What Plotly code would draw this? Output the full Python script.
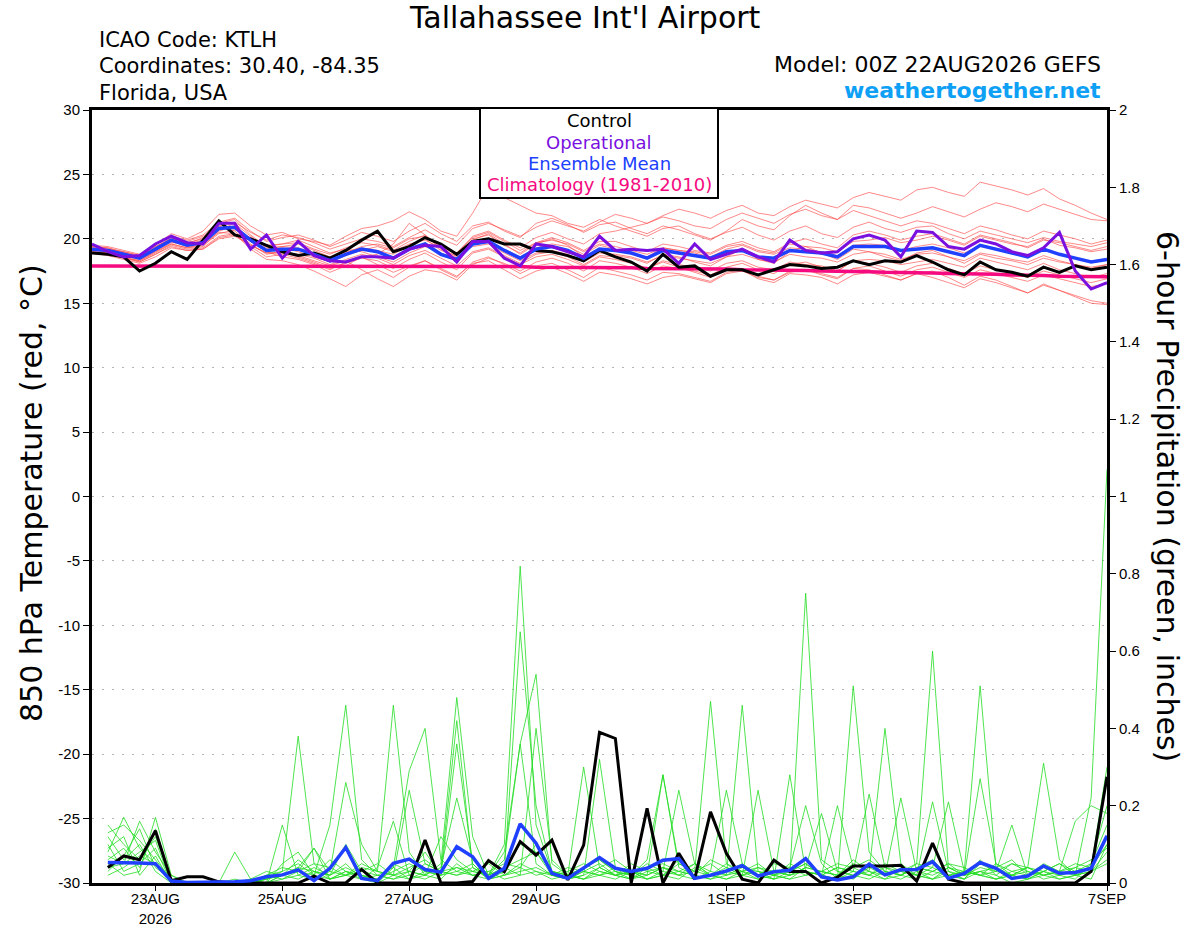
"""
ktlh_gefs_plume.py

GEFS plume for Tallahassee Int'l Airport (KTLH), 00Z 22AUG2026 run.
850 hPa temperature members (red) are drawn on the left axis and
6-hour precipitation members (green) on the right axis.

Usage:
    python3 plot.py
"""

import pandas as pd
import plotly.graph_objects as go

# Forecast times: temperature from 0 h, precipitation from 6 h, every 6 h to 384 h
TEMP_TIMES = pd.date_range('2026-08-22 00:00', periods=65, freq='6h')
PRECIP_TIMES = pd.date_range('2026-08-22 06:00', periods=64, freq='6h')

X_TICK_VALS = ['2026-08-23', '2026-08-25', '2026-08-27', '2026-08-29',
               '2026-09-01', '2026-09-03', '2026-09-05', '2026-09-07']
X_TICK_TEXT = ['23AUG<br>2026', '25AUG', '27AUG', '29AUG', '1SEP', '3SEP', '5SEP', '7SEP']
TEMP_TICKS = [30, 25, 20, 15, 10, 5, 0, -5, -10, -15, -20, -25, -30]
PRECIP_TICKS = [0, 0.2, 0.4, 0.6, 0.8, 1, 1.2, 1.4, 1.6, 1.8, 2]

# 850 hPa temperature (deg C)
temp_control = [18.9, 18.8, 18.6, 17.5, 18.1, 19.0, 18.4, 19.9, 21.4, 20.3, 20.0,
                19.5, 19.0, 18.7, 18.9, 18.5, 19.1, 19.9, 20.6, 19.0, 19.4,
                20.1, 19.6, 18.8, 19.8, 20.0, 19.6, 19.6, 19.1, 19.0, 18.7,
                18.3, 19.1, 18.6, 18.2, 17.5, 18.8, 17.8, 17.9, 17.1, 17.6,
                17.6, 17.2, 17.6, 18.0, 17.9, 17.7, 17.8, 18.3, 18.0, 18.3,
                18.2, 18.7, 18.2, 17.6, 17.2, 18.2, 17.6, 17.4, 17.1, 17.8,
                17.4, 17.9, 17.6, 17.8]
temp_oper = [19.6, 19.0, 18.6, 18.7, 19.6, 20.2, 19.7, 19.6, 21.2, 21.2, 19.2,
             20.3, 18.5, 19.8, 18.7, 18.3, 18.2, 18.6, 18.6, 18.5, 19.2,
             19.5, 19.4, 18.2, 19.8, 19.8, 18.5, 17.9, 19.6, 19.4, 19.0,
             18.6, 20.2, 19.1, 19.2, 19.1, 19.2, 18.1, 19.6, 18.4, 18.8,
             19.2, 18.6, 18.2, 19.9, 19.1, 18.9, 19.0, 20.0, 20.3, 19.9,
             18.6, 20.6, 20.5, 19.4, 19.2, 19.9, 19.6, 19.0, 18.7, 19.3,
             20.5, 17.5, 16.1, 16.6]
temp_mean = [19.2, 19.1, 18.8, 18.5, 19.2, 19.9, 19.5, 19.7, 20.8, 20.9, 19.9,
             19.1, 19.2, 19.2, 18.8, 18.3, 18.8, 19.2, 19.0, 18.5, 19.2,
             19.6, 18.8, 18.4, 19.6, 19.8, 19.1, 18.5, 19.2, 19.4, 19.1,
             18.5, 19.2, 19.1, 18.9, 18.5, 19.1, 18.9, 18.7, 18.5, 19.0,
             19.1, 18.6, 18.5, 19.1, 19.0, 18.9, 18.6, 19.4, 19.4, 19.4,
             19.1, 19.2, 19.3, 19.0, 18.7, 19.5, 19.2, 18.9, 18.6, 19.2,
             18.8, 18.5, 18.2, 18.4]
temp_clim = [17.9, 17.9, 17.9, 17.9, 17.9, 17.9, 17.9, 17.9, 17.9, 17.9, 17.9,
             17.9, 17.9, 17.9, 17.9, 17.9, 17.9, 17.9, 17.9, 17.9, 17.9,
             17.9, 17.9, 17.9, 17.9, 17.85, 17.85, 17.85, 17.8, 17.8, 17.8,
             17.8, 17.75, 17.75, 17.75, 17.7, 17.7, 17.7, 17.65, 17.65, 17.65,
             17.6, 17.6, 17.6, 17.55, 17.55, 17.5, 17.5, 17.45, 17.45, 17.4,
             17.4, 17.35, 17.35, 17.3, 17.3, 17.25, 17.25, 17.2, 17.2, 17.15,
             17.1, 17.1, 17.05, 17.05]

temp_m01 = [19.4, 19.3, 19.0, 18.7, 19.5, 20.4, 20.0, 20.6, 21.9, 22.0, 21.0,
            20.3, 20.5, 20.0, 19.8, 19.5, 20.2, 20.8, 21.0, 21.4, 22.1,
            21.5, 20.6, 20.2, 22.0, 24.1, 23.2, 22.6, 22.0, 21.8, 21.2,
            20.9, 21.5, 21.0, 20.6, 20.2, 20.8, 21.0, 20.4, 20.0, 20.5,
            20.9, 20.3, 19.9, 20.6, 21.0, 20.4, 20.1, 20.9, 21.3, 20.8,
            20.5, 20.9, 21.0, 20.4, 20.0, 20.6, 20.3, 20.0, 19.7, 20.1,
            19.8, 19.6, 19.4, 19.7]
temp_m02 = [19.0, 18.9, 18.6, 18.2, 18.8, 19.5, 19.2, 19.3, 20.2, 20.4, 19.2,
            18.4, 18.3, 18.0, 17.5, 16.9, 16.3, 17.2, 17.6, 17.0, 17.8,
            18.3, 17.6, 17.0, 18.2, 18.6, 18.0, 17.3, 17.9, 18.1, 17.6,
            17.0, 17.8, 17.5, 17.2, 16.8, 17.4, 17.3, 17.0, 16.7, 17.4,
            17.6, 16.9, 16.6, 17.3, 17.2, 17.0, 16.5, 17.2, 17.4, 17.1,
            16.8, 17.3, 17.0, 16.6, 16.2, 16.9, 16.6, 16.2, 15.8, 16.5,
            16.0, 15.6, 15.2, 15.0]
temp_m03 = [19.3, 19.2, 18.9, 18.6, 19.3, 20.1, 19.7, 20.0, 21.2, 21.5, 20.3,
            19.4, 19.6, 19.7, 19.2, 18.8, 19.3, 19.7, 19.5, 19.1, 19.8,
            20.3, 19.4, 18.9, 20.2, 20.6, 19.9, 19.3, 20.1, 20.5, 20.0,
            19.6, 20.4, 20.6, 20.9, 21.2, 21.8, 22.3, 22.0, 21.6, 22.2,
            22.6, 22.0, 21.8, 22.5, 23.0, 22.7, 22.4, 23.2, 23.6, 23.3,
            23.0, 23.8, 24.0, 23.6, 23.3, 24.4, 24.1, 23.8, 23.4, 23.9,
            23.1, 22.6, 22.0, 21.5]
temp_m04 = [19.1, 19.0, 18.7, 18.4, 19.0, 19.7, 19.6, 20.1, 21.0, 20.6, 19.6,
            18.8, 19.0, 18.6, 18.2, 17.7, 18.1, 18.5, 18.3, 17.7, 18.4,
            18.9, 18.2, 17.6, 18.9, 19.2, 18.6, 18.0, 18.6, 18.8, 18.4,
            17.9, 18.6, 18.4, 18.1, 17.7, 18.3, 18.0, 17.8, 17.5, 18.1,
            18.3, 17.8, 17.6, 18.2, 18.0, 17.9, 17.5, 18.3, 18.4, 18.3,
            18.0, 18.2, 18.4, 18.1, 17.8, 18.5, 18.2, 17.9, 17.6, 18.1,
            17.6, 17.3, 17.0, 17.3]
temp_m05 = [19.5, 19.4, 19.1, 18.8, 19.6, 20.2, 19.9, 20.3, 21.3, 21.6, 20.6,
            19.8, 20.1, 20.3, 19.9, 19.4, 19.9, 20.5, 20.2, 19.8, 20.6,
            21.2, 20.4, 19.8, 21.0, 21.3, 20.6, 20.1, 21.2, 21.6, 21.1,
            20.5, 21.1, 21.3, 20.8, 20.4, 21.0, 20.7, 20.3, 19.9, 20.6,
            21.5, 21.0, 20.7, 21.8, 22.6, 22.0, 21.5, 22.2, 21.8, 21.4,
            21.0, 21.4, 21.2, 20.8, 20.4, 21.0, 20.7, 20.3, 20.0, 20.6,
            20.3, 20.0, 19.6, 19.9]
temp_m06 = [18.9, 18.7, 18.4, 18.1, 18.6, 19.3, 19.1, 19.2, 20.0, 20.2, 19.5,
            18.9, 18.9, 18.8, 18.5, 18.0, 18.4, 18.8, 18.5, 18.0, 18.7,
            19.1, 18.5, 17.9, 19.0, 19.3, 18.7, 18.1, 18.8, 19.0, 18.6,
            18.0, 18.7, 18.6, 18.2, 17.7, 18.2, 17.8, 17.4, 17.0, 17.6,
            17.7, 17.1, 16.8, 17.5, 17.6, 17.2, 16.9, 17.7, 17.6, 17.2,
            16.8, 17.3, 17.5, 17.0, 16.4, 17.1, 16.8, 16.3, 15.8, 16.4,
            16.0, 15.5, 15.0, 14.9]
temp_m07 = [19.2, 19.1, 18.9, 18.6, 19.4, 20.0, 19.4, 19.5, 20.4, 20.7, 20.1,
            19.5, 19.6, 19.9, 19.4, 18.9, 19.2, 19.0, 18.6, 18.2, 18.9,
            19.4, 18.9, 18.4, 19.6, 19.8, 19.2, 18.6, 19.3, 19.6, 19.4,
            18.8, 19.5, 19.2, 18.9, 18.6, 19.3, 19.1, 19.0, 18.8, 19.4,
            19.6, 19.1, 18.9, 19.6, 19.4, 19.3, 19.0, 19.8, 19.9, 20.1,
            19.7, 19.9, 20.2, 19.9, 19.5, 20.2, 19.9, 19.6, 19.4, 20.0,
            19.5, 19.3, 19.0, 19.2]
temp_m08 = [18.9, 18.8, 18.5, 18.3, 19.0, 19.6, 19.3, 19.4, 20.6, 21.0, 19.8,
            19.0, 18.6, 18.4, 18.0, 17.4, 17.9, 18.6, 18.8, 19.6, 21.2,
            20.3, 19.2, 18.5, 19.9, 20.4, 19.6, 18.8, 19.6, 20.0, 19.5,
            18.6, 19.1, 18.7, 18.5, 18.1, 18.8, 18.6, 18.2, 17.9, 18.6,
            19.2, 18.4, 18.1, 19.0, 19.4, 18.9, 18.4, 19.2, 19.0, 18.6,
            18.3, 18.9, 19.1, 18.6, 18.1, 18.8, 18.5, 18.3, 18.0, 18.5,
            18.2, 18.0, 17.7, 18.0]
temp_m09 = [19.1, 19.0, 18.6, 18.3, 18.9, 19.6, 19.3, 19.6, 20.5, 20.4, 19.4,
            18.6, 18.8, 18.5, 18.1, 17.6, 18.2, 18.6, 18.0, 17.4, 17.9,
            18.3, 17.7, 17.1, 18.1, 18.3, 17.6, 16.9, 17.5, 17.8, 17.3,
            16.7, 17.4, 17.2, 16.9, 16.5, 17.0, 17.2, 16.9, 16.6, 17.3,
            17.5, 17.0, 16.8, 17.4, 17.6, 17.3, 17.0, 17.7, 17.9, 17.5,
            17.1, 17.6, 17.8, 17.4, 17.0, 17.6, 17.3, 17.0, 16.7, 17.2,
            16.9, 16.6, 16.3, 16.5]
temp_m10 = [19.3, 19.2, 19.0, 18.7, 19.4, 20.0, 19.8, 20.2, 21.0, 21.3, 20.5,
            19.9, 20.3, 20.1, 19.7, 19.2, 19.6, 20.0, 19.8, 19.4, 20.1,
            20.7, 20.0, 19.5, 20.8, 21.2, 20.7, 20.2, 20.9, 21.4, 21.0,
            20.6, 21.3, 21.9, 21.6, 21.2, 21.7, 21.4, 21.0, 20.8, 21.5,
            22.0, 21.6, 21.2, 21.9, 22.3, 21.8, 21.5, 22.6, 22.4, 22.0,
            21.6, 22.0, 22.5, 22.1, 21.7, 22.3, 22.8, 22.5, 22.1, 22.7,
            22.3, 21.9, 21.5, 21.4]
temp_m11 = [19.0, 18.9, 18.7, 18.5, 19.1, 19.8, 19.6, 19.9, 20.9, 20.8, 19.8,
            19.1, 19.3, 19.0, 18.6, 18.2, 18.7, 19.1, 19.4, 19.0, 19.6,
            19.9, 19.3, 18.6, 19.4, 19.6, 18.9, 18.3, 18.9, 19.1, 18.8,
            18.2, 18.9, 18.8, 18.6, 18.2, 18.7, 18.5, 18.3, 18.1, 18.6,
            18.8, 18.4, 18.2, 18.8, 18.6, 18.5, 18.2, 18.8, 19.0, 18.8,
            18.4, 18.8, 18.9, 18.6, 18.3, 18.9, 18.7, 18.4, 18.2, 18.7,
            18.3, 18.0, 17.8, 18.0]
temp_m12 = [19.4, 19.3, 18.9, 18.6, 19.1, 19.9, 19.5, 19.8, 20.7, 21.2, 20.2,
            19.3, 19.4, 19.6, 19.1, 18.6, 19.0, 19.3, 19.1, 18.8, 19.5,
            20.0, 19.1, 18.7, 20.0, 20.3, 19.5, 18.9, 19.7, 20.1, 19.7,
            19.1, 19.8, 19.8, 19.4, 19.0, 19.6, 19.4, 19.1, 18.9, 19.5,
            19.8, 19.3, 19.0, 19.7, 20.0, 19.6, 19.3, 20.3, 20.6, 20.3,
            19.9, 20.2, 20.4, 20.0, 19.6, 20.3, 20.0, 19.7, 19.3, 19.9,
            19.7, 19.4, 19.1, 19.4]
temp_m13 = [18.9, 18.8, 18.5, 18.2, 18.8, 19.4, 19.1, 19.2, 20.1, 20.3, 19.5,
            18.9, 19.0, 18.7, 18.3, 17.9, 18.3, 17.6, 16.9, 16.3, 17.1,
            17.6, 17.4, 16.8, 18.0, 18.5, 18.1, 17.5, 18.2, 18.5, 18.1,
            17.5, 18.3, 18.1, 17.8, 17.3, 17.9, 17.7, 17.5, 17.2, 17.8,
            18.1, 17.6, 17.3, 18.0, 18.2, 17.8, 17.5, 18.3, 18.1, 17.8,
            17.4, 17.9, 18.1, 17.7, 17.3, 17.9, 17.6, 17.3, 17.0, 17.5,
            17.2, 16.9, 16.6, 16.9]
temp_m14 = [19.2, 19.1, 18.8, 18.5, 19.2, 19.8, 19.4, 19.9, 20.8, 21.0, 20.0,
            19.2, 19.4, 19.3, 18.9, 18.4, 18.9, 19.4, 19.6, 19.3, 20.0,
            20.2, 19.3, 18.9, 20.1, 20.5, 19.8, 19.1, 19.7, 19.9, 19.6,
            19.0, 19.6, 19.4, 19.1, 18.8, 19.3, 19.1, 18.9, 18.6, 19.2,
            19.5, 19.0, 18.8, 19.3, 19.2, 19.0, 18.7, 19.5, 19.6, 19.5,
            19.1, 19.4, 19.6, 19.3, 18.9, 19.5, 19.2, 18.9, 18.6, 19.1,
            18.8, 18.5, 18.2, 18.5]

# 6-hour precipitation (inches)
precip_control = [0.04, 0.07, 0.06, 0.135, 0.006, 0.016, 0.016, 0.003, 0, 0,
                  0, 0, 0, 0.018, 0, 0, 0.035, 0, 0, 0,
                  0.111, 0, 0, 0.004, 0.058, 0.029, 0.107, 0.072, 0.111, 0.008,
                  0.098, 0.39, 0.374, 0, 0.193, 0, 0.077, 0.01, 0.184, 0.077,
                  0.01, 0, 0.059, 0.03, 0.03, 0, 0.015, 0.044, 0.044, 0.044,
                  0.046, 0.005, 0.103, 0.01, 0, 0, 0, 0, 0, 0,
                  0, 0, 0.03, 0.275]
precip_mean = [0.053, 0.053, 0.052, 0.05, 0.005, 0.001, 0.001, 0.002, 0.003, 0.006,
               0.016, 0.021, 0.034, 0.006, 0.038, 0.092, 0.012, 0.006, 0.051, 0.062,
               0.035, 0.028, 0.094, 0.068, 0.012, 0.038, 0.153, 0.103, 0.025, 0.012,
               0.038, 0.066, 0.038, 0.03, 0.038, 0.059, 0.063, 0.012, 0.02, 0.031,
               0.045, 0.018, 0.029, 0.033, 0.063, 0.016, 0.008, 0.016, 0.049, 0.021,
               0.034, 0.035, 0.055, 0.012, 0.025, 0.053, 0.038, 0.012, 0.018, 0.044,
               0.025, 0.027, 0.038, 0.122]

precip_m01 = [0.15, 0.10, 0.06, 0.12, 0.01, 0, 0, 0, 0, 0,
              0.02, 0.03, 0.38, 0.05, 0.01, 0.03, 0.02, 0, 0.04, 0.01,
              0.02, 0.05, 0.48, 0.12, 0.02, 0.04, 0.10, 0.08, 0.02, 0.01,
              0.03, 0.05, 0.02, 0.01, 0.04, 0.02, 0.06, 0.01, 0.02, 0.05,
              0.03, 0.01, 0.02, 0.04, 0.20, 0.05, 0.01, 0.03, 0.02, 0.01,
              0.04, 0.02, 0.21, 0.03, 0.01, 0.06, 0.02, 0, 0.01, 0.03,
              0.02, 0.01, 0.05, 0.15]
precip_m02 = [0.08, 0.17, 0.09, 0.05, 0, 0, 0, 0, 0.01, 0,
              0, 0.05, 0.08, 0.02, 0.15, 0.46, 0.06, 0.02, 0.01, 0.03,
              0.08, 0.02, 0.36, 0.05, 0.01, 0.03, 0.65, 0.20, 0.03, 0.02,
              0.01, 0.04, 0.06, 0.03, 0.02, 0.28, 0.04, 0.02, 0.01, 0.03,
              0.05, 0.02, 0.01, 0.03, 0.05, 0.02, 0.01, 0.51, 0.08, 0.03,
              0.02, 0.04, 0.06, 0.02, 0.01, 0.03, 0.02, 0.05, 0.03, 0.01,
              0.02, 0.04, 0.03, 0.08]
precip_m03 = [0.04, 0.05, 0.16, 0.08, 0.02, 0, 0, 0, 0, 0.01,
              0, 0.02, 0.04, 0.09, 0.03, 0.26, 0.10, 0.03, 0.46, 0.08,
              0.02, 0.04, 0.22, 0.06, 0.02, 0.08, 0.36, 0.54, 0.05, 0.02,
              0.04, 0.06, 0.03, 0.02, 0.05, 0.03, 0.24, 0.05, 0.02, 0.01,
              0.03, 0.05, 0.02, 0.01, 0.04, 0.18, 0.03, 0.02, 0.05, 0.02,
              0.22, 0.03, 0.01, 0.04, 0.02, 0.27, 0.05, 0.02, 0.01, 0.03,
              0.05, 0.02, 0.01, 0.10]
precip_m04 = [0.10, 0.03, 0.05, 0.09, 0, 0, 0, 0, 0, 0,
              0.01, 0.02, 0.06, 0.03, 0.02, 0.05, 0.01, 0.02, 0.04, 0.29,
              0.40, 0.06, 0.03, 0.02, 0.01, 0.04, 0.02, 0.40, 0.06, 0.02,
              0.30, 0.04, 0.02, 0.03, 0.01, 0.02, 0.05, 0.03, 0.47, 0.05,
              0.02, 0.01, 0.03, 0.02, 0.04, 0.03, 0.02, 0.06, 0.03, 0.01,
              0.02, 0.05, 0.60, 0.04, 0.02, 0.03, 0.01, 0.02, 0.04, 0.31,
              0.06, 0.02, 0.03, 0.05]
precip_m05 = [0.06, 0.09, 0.04, 0.14, 0.01, 0, 0, 0, 0.08, 0.01,
              0, 0.15, 0.02, 0.01, 0.03, 0.02, 0.01, 0, 0.02, 0.24,
              0.05, 0.03, 0.42, 0.04, 0.01, 0.02, 0.05, 0.03, 0.02, 0.01,
              0.02, 0.32, 0.04, 0.02, 0.01, 0.03, 0.02, 0.05, 0.03, 0.24,
              0.05, 0.02, 0.01, 0.28, 0.03, 0.02, 0.04, 0.03, 0.23, 0.04,
              0.02, 0.01, 0.03, 0.05, 0.02, 0.03, 0.04, 0.06, 0.02, 0.03,
              0.01, 0.02, 0.22, 1.07]
precip_m06 = [0.12, 0.06, 0.10, 0.03, 0, 0, 0, 0, 0, 0,
              0.02, 0.01, 0.03, 0.09, 0.01, 0.03, 0.02, 0.01, 0.05, 0.03,
              0.02, 0.01, 0.05, 0.02, 0.03, 0.01, 0.02, 0.03, 0.01, 0.02,
              0.01, 0.02, 0.03, 0.01, 0.02, 0.04, 0.02, 0.01, 0.03, 0.02,
              0.46, 0.03, 0.02, 0.01, 0.02, 0.03, 0.02, 0.01, 0.04, 0.02,
              0.03, 0.02, 0.01, 0.02, 0.03, 0.51, 0.04, 0.02, 0.01, 0.02,
              0.03, 0.02, 0.04, 0.30]
precip_m07 = [0.02, 0.04, 0.07, 0.05, 0.01, 0, 0, 0, 0, 0,
              0, 0.01, 0.02, 0.04, 0.02, 0.10, 0.03, 0.02, 0.01, 0.02,
              0.05, 0.03, 0.02, 0.04, 0.02, 0.10, 0.82, 0.15, 0.03, 0.02,
              0.01, 0.03, 0.02, 0.05, 0.03, 0.02, 0.01, 0.04, 0.02, 0.03,
              0.02, 0.24, 0.03, 0.02, 0.75, 0.06, 0.03, 0.02, 0.01, 0.03,
              0.02, 0.04, 0.03, 0.02, 0.01, 0.05, 0.03, 0.02, 0.04, 0.02,
              0.03, 0.05, 0.04, 0.12]
precip_m08 = [0.05, 0.02, 0.03, 0.17, 0.02, 0, 0, 0, 0, 0,
              0.01, 0.03, 0.05, 0.02, 0.01, 0.02, 0.04, 0.03, 0.02, 0.01,
              0.03, 0.02, 0.04, 0.03, 0.02, 0.06, 0.36, 0.05, 0.02, 0.01,
              0.03, 0.02, 0.04, 0.02, 0.06, 0.28, 0.05, 0.03, 0.02, 0.01,
              0.02, 0.04, 0.03, 0.02, 0.03, 0.02, 0.20, 0.04, 0.02, 0.05,
              0.03, 0.02, 0.04, 0.21, 0.03, 0.02, 0.01, 0.03, 0.02, 0.04,
              0.02, 0.03, 0.05, 0.20]
precip_m09 = [0.09, 0.12, 0.02, 0.07, 0, 0, 0, 0, 0, 0.01,
              0.03, 0.02, 0.01, 0.03, 0.02, 0.04, 0.02, 0.01, 0.03, 0.05,
              0.03, 0.02, 0.03, 0.05, 0.01, 0.02, 0.04, 0.10, 0.02, 0.04,
              0.03, 0.02, 0.01, 0.03, 0.02, 0.04, 0.03, 0.02, 0.01, 0.02,
              0.03, 0.04, 0.02, 0.03, 0.05, 0.02, 0.01, 0.02, 0.03, 0.02,
              0.01, 0.03, 0.02, 0.04, 0.03, 0.02, 0.01, 0.02, 0.03, 0.02,
              0.01, 0.02, 0.03, 0.06]
precip_m10 = [0.03, 0.07, 0.14, 0.04, 0.01, 0, 0, 0, 0, 0,
              0.02, 0.04, 0.03, 0.02, 0.06, 0.03, 0.01, 0.04, 0.16, 0.02,
              0.01, 0.03, 0.04, 0.02, 0.03, 0.05, 0.04, 0.02, 0.03, 0.01,
              0.02, 0.04, 0.02, 0.03, 0.01, 0.02, 0.03, 0.05, 0.02, 0.04,
              0.02, 0.03, 0.01, 0.02, 0.04, 0.03, 0.02, 0.05, 0.03, 0.40,
              0.05, 0.02, 0.01, 0.03, 0.02, 0.04, 0.03, 0.15, 0.02, 0.05,
              0.03, 0.16, 0.20, 0.18]
precip_m11 = [0.07, 0.05, 0.08, 0.11, 0, 0, 0, 0, 0, 0,
              0.01, 0.02, 0.04, 0.03, 0.01, 0.02, 0.05, 0.03, 0.02, 0.04,
              0.06, 0.03, 0.02, 0.03, 0.05, 0.02, 0.03, 0.04, 0.02, 0.03,
              0.05, 0.03, 0.02, 0.01, 0.03, 0.04, 0.02, 0.03, 0.05, 0.02,
              0.04, 0.03, 0.02, 0.05, 0.03, 0.02, 0.04, 0.03, 0.02, 0.04,
              0.03, 0.05, 0.04, 0.02, 0.03, 0.02, 0.05, 0.03, 0.04, 0.02,
              0.03, 0.04, 0.06, 0.09]
precip_m12 = [0.13, 0.15, 0.11, 0.06, 0.01, 0, 0, 0, 0, 0,
              0, 0.02, 0.03, 0.05, 0.04, 0.02, 0.03, 0.05, 0.02, 0.03,
              0.02, 0.12, 0.06, 0.03, 0.02, 0.04, 0.06, 0.08, 0.03, 0.02,
              0.04, 0.06, 0.03, 0.02, 0.04, 0.05, 0.03, 0.02, 0.06, 0.04,
              0.03, 0.02, 0.05, 0.04, 0.02, 0.03, 0.05, 0.04, 0.06, 0.03,
              0.02, 0.04, 0.03, 0.05, 0.04, 0.02, 0.03, 0.05, 0.04, 0.03,
              0.05, 0.03, 0.04, 0.10]

TEMP_MEMBERS = [temp_m01, temp_m02, temp_m03, temp_m04, temp_m05, temp_m06, temp_m07,
                temp_m08, temp_m09, temp_m10, temp_m11, temp_m12, temp_m13, temp_m14]
PRECIP_MEMBERS = [precip_m01, precip_m02, precip_m03, precip_m04, precip_m05, precip_m06,
                  precip_m07, precip_m08, precip_m09, precip_m10, precip_m11, precip_m12]

# Colours
RED = 'rgba(255, 70, 70, 0.8)'
GREEN = '#22dd22'
BLUE = '#2040ff'
PURPLE = '#7a10e0'
PINK = '#f50a80'
FONT = 'DejaVu Sans, sans-serif'
TICK_FONT = 'Liberation Sans, Arial, sans-serif'

# Page size and plot area in page pixels (left, right, top, bottom)
FIG_W, FIG_H = 1200, 927
PLOT_L, PLOT_R, PLOT_T, PLOT_B = 92, 1107, 110, 883

# Drop the default 8px body margin so the figure sits at the page origin
NO_BODY_MARGIN = "document.body.style.margin = '0px';"


def px_x(px):
    """Page pixel column -> paper x."""
    return (px - PLOT_L) / (PLOT_R - PLOT_L)


def px_y(px):
    """Page pixel row -> paper y."""
    return (PLOT_B - px) / (PLOT_B - PLOT_T)


def add_text(fig, text, x, y, size, color='black', xanchor='left', angle=0):
    fig.add_annotation(text=text, x=px_x(x), y=px_y(y), xref='paper', yref='paper',
                       xanchor=xanchor, yanchor='middle', showarrow=False,
                       textangle=angle, font=dict(family=FONT, size=size, color=color))


def main():
    for series in TEMP_MEMBERS + [temp_control, temp_oper, temp_mean, temp_clim]:
        assert len(series) == len(TEMP_TIMES)
    for series in PRECIP_MEMBERS + [precip_control, precip_mean]:
        assert len(series) == len(PRECIP_TIMES)

    fig = go.Figure()

    # Temperature members and summary lines (left axis)
    for member in TEMP_MEMBERS:
        fig.add_trace(go.Scatter(x=TEMP_TIMES, y=member, mode='lines',
                                 line=dict(color=RED, width=0.8)))
    fig.add_trace(go.Scatter(x=TEMP_TIMES, y=temp_clim, mode='lines',
                             line=dict(color=PINK, width=3.5)))
    fig.add_trace(go.Scatter(x=TEMP_TIMES, y=temp_control, mode='lines',
                             line=dict(color='black', width=3)))
    fig.add_trace(go.Scatter(x=TEMP_TIMES, y=temp_mean, mode='lines',
                             line=dict(color=BLUE, width=3.5)))
    fig.add_trace(go.Scatter(x=TEMP_TIMES, y=temp_oper, mode='lines',
                             line=dict(color=PURPLE, width=3)))

    # Precipitation members and summary lines (right axis)
    for member in PRECIP_MEMBERS:
        fig.add_trace(go.Scatter(x=PRECIP_TIMES, y=member, mode='lines', yaxis='y2',
                                 line=dict(color=GREEN, width=0.8)))
    fig.add_trace(go.Scatter(x=PRECIP_TIMES, y=precip_control, mode='lines', yaxis='y2',
                             line=dict(color='black', width=3)))
    fig.add_trace(go.Scatter(x=PRECIP_TIMES, y=precip_mean, mode='lines', yaxis='y2',
                             line=dict(color=BLUE, width=3.5)))

    axis_common = dict(showline=True, linecolor='black', linewidth=3, automargin=False,
                       ticks='outside', ticklen=6, tickwidth=1, tickcolor='black',
                       tickfont=dict(family=TICK_FONT, size=15, color='black'), zeroline=False)

    fig.update_layout(
        width=FIG_W, height=FIG_H, autosize=False,
        margin=dict(l=PLOT_L, r=FIG_W - PLOT_R, t=PLOT_T, b=FIG_H - PLOT_B, pad=0),
        paper_bgcolor='white', plot_bgcolor='white',
        showlegend=False, hovermode=False,
        xaxis=dict(type='date', range=['2026-08-22 00:00', '2026-09-07 00:00'],
                   tickvals=X_TICK_VALS, ticktext=X_TICK_TEXT, showgrid=False,
                   mirror=True, ticklabelstandoff=-5, **dict(axis_common, ticklen=5)),
        yaxis=dict(range=[-30, 30], tickvals=TEMP_TICKS,
                   ticktext=[str(v) for v in TEMP_TICKS],
                   showgrid=True, gridcolor='#b4b4b4', griddash='2px,8px', gridwidth=1,
                   mirror=True, **axis_common),
        yaxis2=dict(range=[0, 2], tickvals=PRECIP_TICKS,
                    ticktext=[f'{v:g}' for v in PRECIP_TICKS],
                    overlaying='y', side='right', showgrid=False, **axis_common),
    )

    # Header texts
    add_text(fig, "Tallahassee Int'l Airport", 585, 18, 30, xanchor='center')
    add_text(fig, 'ICAO Code: KTLH', 97, 40, 21)
    add_text(fig, 'Coordinates: 30.40, -84.35', 97, 66, 21)
    add_text(fig, 'Florida, USA', 97, 93, 21)
    add_text(fig, 'Model: 00Z 22AUG2026 GEFS', 1103, 64, 22, xanchor='right')
    add_text(fig, '<b>weathertogether.net</b>', 1103, 90, 22, color='#0ea0f5', xanchor='right')

    # Axis titles
    add_text(fig, '850 hPa Temperature (red, °C)', 31, 493, 30, xanchor='center', angle=-90)
    add_text(fig, '6-hour Precipitation (green, inches)', 1168, 496, 30, xanchor='center', angle=90)

    # Legend box
    fig.add_shape(type='rect', xref='paper', yref='paper',
                  x0=px_x(480), x1=px_x(718), y0=px_y(198), y1=px_y(108),
                  line=dict(color='black', width=2), fillcolor='white', layer='above')
    add_text(fig, 'Control', 599, 121, 18, xanchor='center')
    add_text(fig, 'Operational', 599, 142, 18, color=PURPLE, xanchor='center')
    add_text(fig, 'Ensemble Mean', 599, 163, 18, color=BLUE, xanchor='center')
    add_text(fig, 'Climatology (1981-2010)', 599, 185, 18, color=PINK, xanchor='center')

    fig.write_html('out.html', post_script=NO_BODY_MARGIN,
                   config={'displayModeBar': False})


if __name__ == '__main__':
    main()
